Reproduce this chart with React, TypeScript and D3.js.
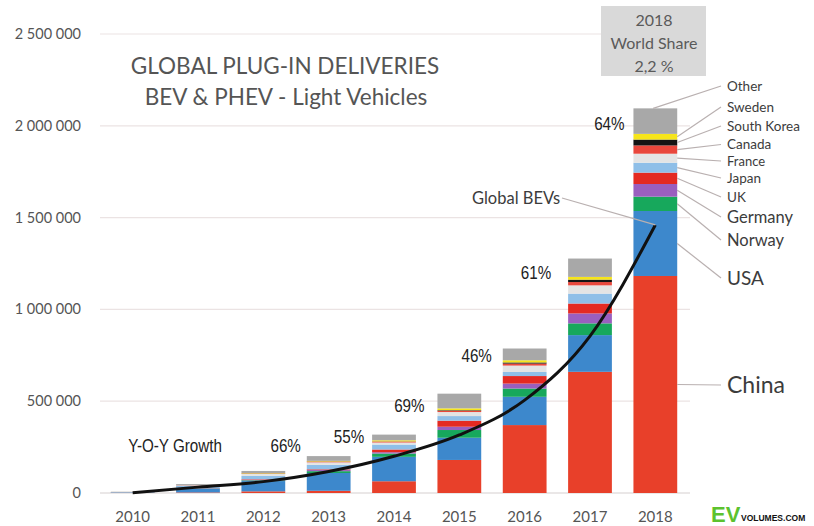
import React from "react";
import * as d3 from "d3";

const years = ["2010", "2011", "2012", "2013", "2014", "2015", "2016", "2017", "2018"];
// values in thousands of vehicles
const china = [1, 3, 9, 12, 64, 180, 370, 660, 1182];
const usa = [1.5, 20, 56, 97, 133, 121, 154, 200, 354];
const norway = [0.5, 2, 4, 10, 18, 42, 45, 64, 78];
const germany = [0.3, 2, 3, 6, 7, 18, 27, 54, 69];
const uk = [0.2, 1, 3, 4, 15, 33, 41, 54, 62];
const japan = [2, 11, 18, 24, 27, 25, 22, 54, 54];
const france = [0.3, 3, 11, 14, 11, 22, 35, 45, 49];
const canada = [0.1, 1, 2, 4, 5, 7, 11, 18, 45];
const korea = [0.1, 0.5, 1, 1, 1, 3, 6, 13, 32];
const sweden = [0.1, 0.5, 2, 3, 6, 10, 12, 15, 31];
const other = [1, 5, 11, 26, 31, 80, 64, 100, 139];
const globalBEVs = [2, 32, 62, 117, 200, 316, 506, 855, 1460];
const growthYears = ["2013", "2014", "2015", "2016", "2017", "2018"];
const growthLabels = ["66%", "55%", "69%", "46%", "61%", "64%"];
const yTicks = [0, 500000, 1000000, 1500000, 2000000, 2500000];

const seriesNames = ["China", "USA", "Norway", "Germany", "UK", "Japan", "France", "Canada", "South Korea", "Sweden", "Other"];
const seriesValues = [china, usa, norway, germany, uk, japan, france, canada, korea, sweden, other];

// styling / layout (not data)
const colors = ["#e8402a", "#3d88cc", "#17a85c", "#9a5fbf", "#e42a22", "#8fbfe8", "#e4e4e4", "#e9473c", "#141414", "#f6e51b", "#a8a8a8"];
const legendY = [385, 278, 240, 217, 197, 178, 161, 144.5, 126, 107, 86];
const legendSize = [23, 19, 16.5, 16.5, 13.5, 13.5, 13, 13.5, 13.5, 13.5, 13.5];
const growthDx = [-43, -45, -50, -48, -54, -46];
const growthDy = [-11, 2, 12, 7, 14, 15];

const W = 814;
const H = 526;

export default function App() {
  const x = d3.scaleBand<string>().domain(years).range([100, 688]).paddingInner(0.33).paddingOuter(0.165);
  const y = d3.scaleLinear().domain([0, 2500000]).range([493, 34]);

  const table = years.map((yr, i) => {
    const row: any = { year: yr };
    seriesNames.forEach((s, k) => (row[s] = seriesValues[k][i] * 1000));
    return row;
  });
  const stack = d3.stack<any>().keys(seriesNames)(table);
  const totals = table.map((r) => seriesNames.reduce((a, s) => a + r[s], 0));

  const line = d3
    .line<number>()
    .x((_, i) => (x(years[i]) as number) + x.bandwidth() / 2)
    .y((v) => y(v * 1000))
    .curve(d3.curveMonotoneX);

  const fmt = (v: number) => d3.format(",")(v).replace(/,/g, " ");
  const last = years.length - 1;
  const lastX = x(years[last]) as number;
  const barRight = lastX + x.bandwidth();
  const labelFont = "Lato, 'Open Sans', sans-serif";
  const narrowFont = "'Liberation Sans', Arial, sans-serif";

  return (
    <svg width={W} height={H} style={{ position: "absolute", left: 0, top: 0, background: "#fff" }}>
      <rect x={0} y={0} width={W} height={H} fill="#fff" />
      {/* gridlines */}
      {yTicks.map((t) => (
        <line key={t} x1={100} x2={690} y1={y(t)} y2={y(t)} stroke={t === 0 ? "#d6cfcf" : "#ebe3e3"} strokeWidth={1.2} />
      ))}
      {/* y tick labels */}
      {yTicks.map((t) => (
        <text key={"l" + t} x={81} y={y(t)} dy="0.35em" textAnchor="end" fontFamily={labelFont} fontSize={14.5} fill="#555">
          {fmt(t)}
        </text>
      ))}
      {/* x tick labels */}
      {years.map((yr) => (
        <text key={yr} x={(x(yr) as number) + x.bandwidth() / 2} y={517} dy="0.35em" textAnchor="middle" fontFamily={labelFont} fontSize={15} fill="#555">
          {yr}
        </text>
      ))}
      {/* stacked bars */}
      {stack.map((layer, k) => (
        <g key={layer.key} fill={colors[k]}>
          {layer.map((d, i) => (
            <rect key={i} x={x(years[i])} width={x.bandwidth()} y={y(d[1])} height={Math.max(0, y(d[0]) - y(d[1]))} />
          ))}
        </g>
      ))}
      {/* legend leader lines and labels */}
      {stack.map((layer, k) => {
        const d = layer[last];
        const isOther = k === seriesNames.length - 1;
        const sx = isOther ? lastX + x.bandwidth() * 0.45 : barRight;
        const sy = isOther ? y(d[1]) : (y(d[0]) + y(d[1])) / 2;
        return (
          <g key={"lg" + k}>
            <line x1={sx} y1={sy} x2={721} y2={legendY[k]} stroke="#b9b0b0" strokeWidth={1.2} />
            <text x={727} y={legendY[k]} dy="0.35em" fontFamily={labelFont} fontSize={legendSize[k]} fill="#3c3c3c">
              {seriesNames[k]}
            </text>
          </g>
        );
      })}
      {/* global BEV line */}
      <path d={line(globalBEVs) || ""} fill="none" stroke="#111" strokeWidth={3} />
      <line x1={562} y1={198} x2={(x(years[last]) as number) + x.bandwidth() / 2} y2={y(globalBEVs[last] * 1000)} stroke="#b9b0b0" strokeWidth={1.2} />
      <text x={472} y={198} dy="0.35em" fontFamily={labelFont} fontSize={16.5} fill="#3c3c3c">
        Global BEVs
      </text>
      {/* growth labels */}
      {growthYears.map((yr, j) => {
        const i = years.indexOf(yr);
        const cx = (x(yr) as number) + x.bandwidth() / 2 + growthDx[j];
        const cy = y(totals[i]) + growthDy[j];
        return (
          <text key={yr} transform={`translate(${cx},${cy}) scale(0.8,1)`} textAnchor="middle" dy="0.35em" fontFamily={narrowFont} fontSize={19} fill="#222">
            {growthLabels[j]}
          </text>
        );
      })}
      <text transform="translate(175,445) scale(0.8,1)" textAnchor="middle" dy="0.35em" fontFamily={narrowFont} fontSize={19} fill="#222">
        Y-O-Y Growth
      </text>
      {/* title */}
      <text x={285} y={66} dy="0.35em" textAnchor="middle" fontFamily={labelFont} fontSize={22.5} fill="#555">
        GLOBAL PLUG-IN DELIVERIES
      </text>
      <text x={286} y={97} dy="0.35em" textAnchor="middle" fontFamily={labelFont} fontSize={22.5} fill="#555">
        BEV &amp; PHEV - Light Vehicles
      </text>
      {/* world share box */}
      <rect x={601} y={6} width={105} height={70} fill="#d9d9d9" />
      <text x={654} y={20} dy="0.35em" textAnchor="middle" fontFamily={labelFont} fontSize={16} fill="#5a5a5a">2018</text>
      <text x={654} y={43} dy="0.35em" textAnchor="middle" fontFamily={labelFont} fontSize={16} fill="#5a5a5a">World Share</text>
      <text x={654} y={66} dy="0.35em" textAnchor="middle" fontFamily={labelFont} fontSize={16} fill="#5a5a5a">2,2 %</text>
      {/* logo */}
      <text x={711} y={522} fontFamily="'Liberation Sans', Arial, sans-serif" fontWeight="bold" fontSize={22} fill="#5cc22e">EV</text>
      <text x={741} y={521} fontFamily="'Liberation Sans', Arial, sans-serif" fontWeight="bold" fontSize={8.5} fill="#111">VOLUMES.COM</text>
    </svg>
  );
}
